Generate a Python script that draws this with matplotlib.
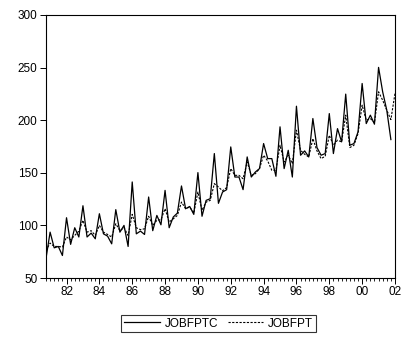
import numpy as np
import matplotlib
matplotlib.use("Agg")
import matplotlib.pyplot as plt
from matplotlib.ticker import MultipleLocator, FixedLocator

plt.rcParams["font.family"] = ["Liberation Sans", "DejaVu Sans"]

# Quarterly data, 1980Q4 .. 2002Q1
START = 1980.75

jobfptc = [
    68.6, 93.6, 78.7, 80.0, 71.4, 107.3, 82.0, 97.8, 89.0, 118.7,
    89.0, 92.7, 87.3, 111.1, 92.0, 89.8, 82.5, 115.0, 93.6, 100.0,
    80.0, 141.3, 92.0, 94.6, 91.4, 127.0, 95.0, 109.5, 100.6, 133.3,
    97.8, 108.0, 111.7, 137.5, 115.9, 118.0, 110.5, 150.2, 108.7, 123.8,
    125.4, 168.3, 121.0, 131.7, 134.0, 174.6, 146.0, 146.0, 134.0, 165.1,
    146.0, 150.8, 154.0, 177.8, 163.5, 163.5, 146.7, 193.7, 154.0, 171.4,
    146.0, 213.3, 166.7, 170.8, 165.1, 201.6, 174.0, 166.7, 168.3, 206.3,
    168.3, 192.0, 179.4, 224.8, 176.2, 177.8, 188.9, 234.9, 196.8, 204.8,
    196.2, 250.2, 227.0, 209.5, 181.6,
]

jobfpt = [
    76.2, 83.2, 80.0, 80.0, 79.4, 89.0, 86.3, 90.5, 94.6, 104.8,
    93.6, 95.0, 90.5, 100.0, 93.6, 91.4, 89.0, 101.6, 95.0, 97.8,
    90.5, 110.5, 97.8, 96.0, 96.8, 108.7, 100.0, 104.8, 105.5, 115.9,
    103.2, 106.3, 109.5, 122.2, 115.9, 117.5, 111.8, 131.7, 114.3, 122.2,
    123.8, 139.7, 136.5, 132.9, 136.0, 154.0, 147.6, 147.6, 144.4, 160.3,
    147.6, 149.2, 154.0, 166.7, 161.3, 152.4, 152.4, 176.2, 160.3, 166.7,
    158.7, 190.5, 171.4, 167.6, 165.1, 182.5, 170.8, 163.5, 165.7, 185.7,
    176.2, 181.0, 179.4, 204.8, 174.0, 176.2, 187.3, 214.3, 200.0, 201.6,
    197.5, 227.0, 219.0, 209.5, 200.6, 225.4,
]

year_ticks = list(range(1982, 2003, 2))
year_labels = [f"{y % 100:02d}" for y in year_ticks]

t_c = START + 0.25 * np.arange(len(jobfptc))
t_p = START + 0.25 * np.arange(len(jobfpt))

fig = plt.figure(figsize=(4.01, 3.37), dpi=100)
ax = fig.add_axes([0.1147, 0.175, 0.8703, 0.7805])

ax.plot(t_c, jobfptc, color="black", linewidth=0.9, label="JOBFPTC")
ax.plot(t_p, jobfpt, color="black", linewidth=0.8, dashes=(2, 1.3), label="JOBFPT")

ax.set_xlim(START, t_p[-1])
ax.set_ylim(50, 300)
ax.yaxis.set_major_locator(MultipleLocator(50))
ax.xaxis.set_major_locator(FixedLocator(year_ticks))
ax.set_xticklabels(year_labels)
ax.xaxis.set_minor_locator(MultipleLocator(0.25))

ax.tick_params(axis="both", direction="out", labelsize=8.5, color="black")
ax.tick_params(axis="x", which="major", length=4, width=0.7, pad=2)
ax.tick_params(axis="x", which="minor", length=2.5, width=0.6)
ax.tick_params(axis="y", which="major", length=4, width=0.7, pad=2)
ax.tick_params(top=False, right=False)
for s in ax.spines.values():
    s.set_linewidth(0.8)

fig.legend(loc="center", bbox_to_anchor=(0.545, 0.04), ncol=2, frameon=True,
           fancybox=False, edgecolor="black", fontsize=8.5, handlelength=3.0,
           handletextpad=0.4, columnspacing=0.8, borderpad=0.25,
           borderaxespad=0).get_frame().set_linewidth(0.8)

fig.savefig("out.png", dpi=100)
